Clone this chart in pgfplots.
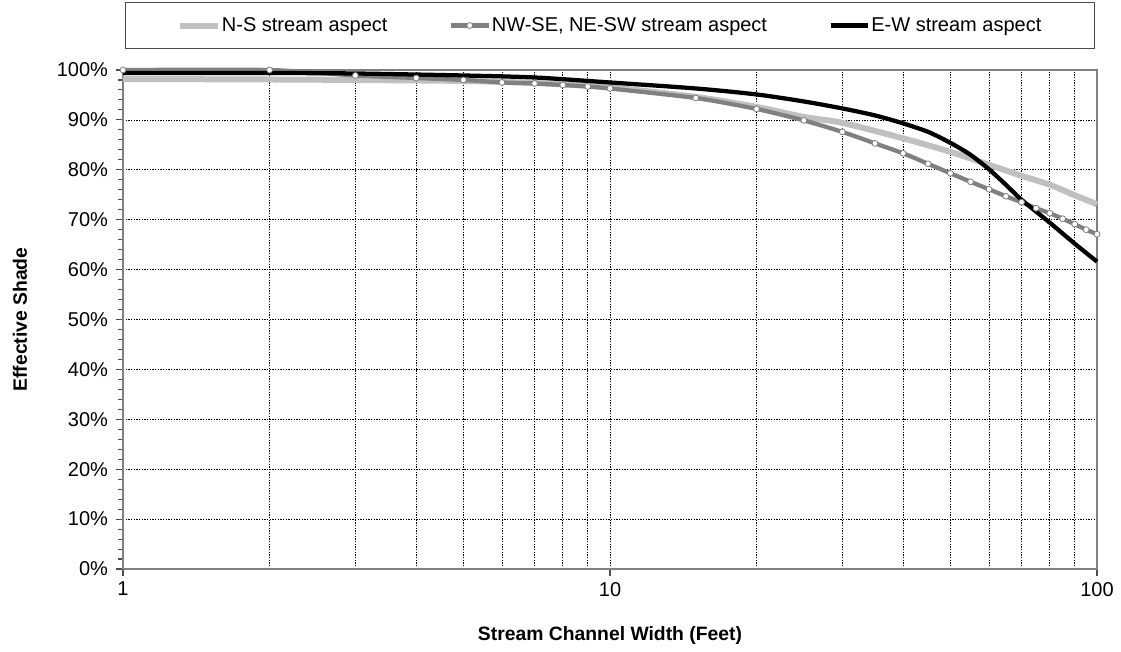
\documentclass[border=0pt]{standalone}
\usepackage{fontspec}
\setmainfont{Liberation Sans}
\usepackage{pgfplots}
\pgfplotsset{compat=1.18}

\definecolor{nsgray}{RGB}{192,192,192}
\definecolor{dgray}{RGB}{128,128,128}
\definecolor{frame}{RGB}{128,128,128}

\begin{document}
\begin{tikzpicture}[font=\fontsize{15}{18}\selectfont]
\begin{axis}[
    scale only axis,
    width=730.5pt, height=374.25pt,
    xmode=log, xmin=1, xmax=100,
    ymin=0, ymax=100,
    xtick={1,10,100}, xticklabels={1,10,100},
    minor xtick={2,3,4,5,6,7,8,9,20,30,40,50,60,70,80,90},
    ytick={0,10,...,100}, minor y tick num=4,
    yticklabel={\pgfmathprintnumber{\tick}\%},
    yticklabel style={xshift=-2.5pt},
    xticklabel style={yshift=-1pt},
    /pgf/number format/assume math mode=true,
    xmajorgrids, xminorgrids, ymajorgrids,
    major grid style={black, line width=0.5pt, dash pattern=on 1pt off 1pt},
    minor grid style={black, line width=0.5pt, dash pattern=on 1pt off 1pt},
    tick align=outside, xtick pos=left, ytick pos=left,
    major tick length=5.25pt, minor tick length=3.75pt,
    tick style={black!70, line width=0.8pt},
    minor x tick style={draw=none},
    axis line style={frame, line width=1.5pt},
    xlabel={\fontsize{14.5}{17}\selectfont\bfseries Stream Channel Width (Feet)},
    ylabel={\fontsize{14.5}{17}\selectfont\bfseries Effective Shade},
    xlabel style={at={(axis description cs:0.5,-0.134)}, anchor=center},
    ylabel style={at={(axis description cs:-0.1057,0.5)}, anchor=center},
    clip=false,
    legend columns=3,
    legend cell align=left,
    legend image code/.code={\draw[mark repeat=2,mark phase=2,#1] plot coordinates {(0pt,0pt) (14pt,0pt) (28pt,0pt)};},
    legend style={at={(0.5,1)}, anchor=south, yshift=16pt,
        draw=black!70, line width=0.75pt, inner xsep=39pt, inner ysep=9pt,
        nodes={inner xsep=1pt},
        /tikz/every even column/.append style={column sep=45pt}},
]
\addplot[nsgray, line width=4.5pt, smooth, line join=round] coordinates {
(1,98.2) (2,98.1) (3,98.0) (5,97.8) (7,97.4) (10,96.5) (15,94.6) (20,92.6)
(25,90.6) (30,89.4) (40,86.3) (50,83.6) (60,81.0) (70,78.8) (80,77.0) (90,74.9) (100,73.1)
};
\addplot[dgray, line width=3.2pt, smooth, tension=0.35, line join=round, mark=*, mark size=2.2pt,
    mark options={fill=white, draw=dgray, line width=0.6pt}] coordinates {
(1,100) (2,100) (3,98.9) (4,98.4) (5,98.0) (6,97.5) (7,97.3) (8,97.0) (9,96.7)
(10,96.3) (15,94.4) (20,92.2) (25,89.9) (30,87.6) (35,85.3) (40,83.3) (45,81.2)
(50,79.3) (55,77.6) (60,76.1) (65,74.7) (70,73.5) (75,72.3) (80,71.3) (85,70.2)
(90,69.1) (95,68.0) (100,67.1)
};
\addplot[black, line width=3.2pt, smooth, tension=0.45, line join=round] coordinates {
(1,99.4) (2,99.4) (3,99.3) (5,98.9) (7,98.5) (10,97.5) (15,96.3) (20,95.1)
(25,93.7) (30,92.3) (35,90.9) (40,89.3) (45,87.6) (50,85.4) (55,83.0) (60,80.1) (65,77.0) (70,74.0)
(80,69.4) (90,65.2) (100,61.6)
};
\legend{N-S stream aspect, {NW-SE, NE-SW stream aspect}, E-W stream aspect}
\coordinate (bl) at (rel axis cs:0,0);
\coordinate (tr) at (rel axis cs:1,1);
\end{axis}
\pgfresetboundingbox
\path[use as bounding box] ([xshift=-92.25pt,yshift=-61.5pt]bl) rectangle ([xshift=18pt,yshift=52.5pt]tr);
\end{tikzpicture}
\end{document}
